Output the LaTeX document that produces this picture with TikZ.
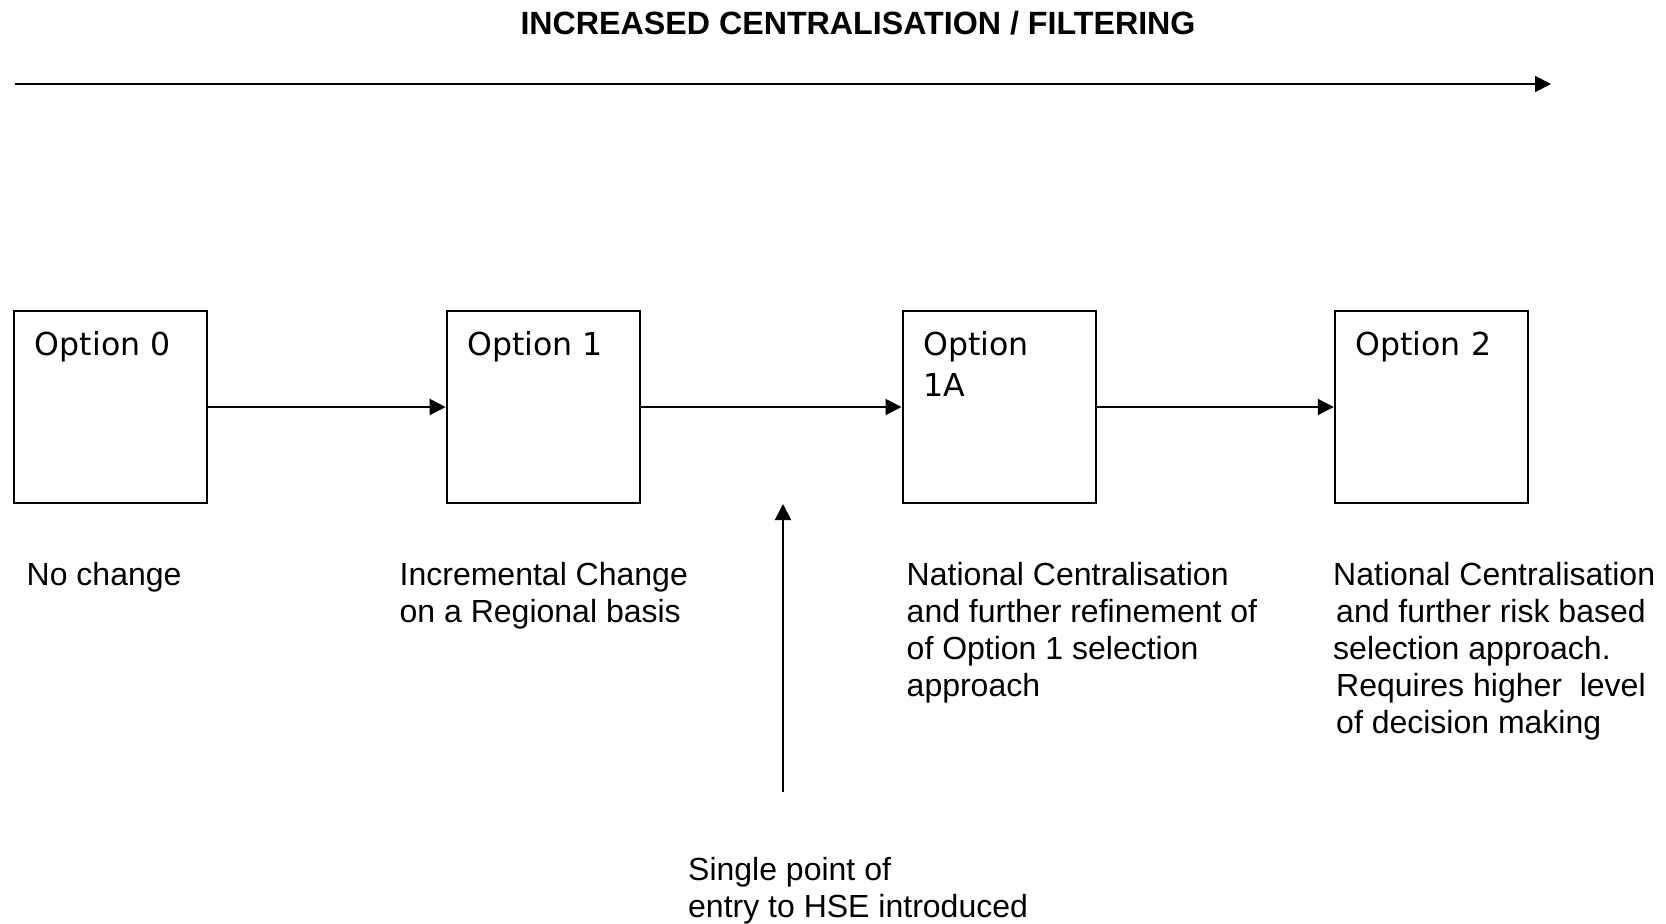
\documentclass[tikz,border=0pt]{standalone}
\usepackage{fontspec}
\setmainfont{Liberation Sans}
\newfontfamily\optfont{DejaVu Sans}
\usetikzlibrary{arrows.meta,positioning}
\tikzset{%
	block/.style    = {draw, line width=2pt, rectangle, minimum width=193pt,
		minimum height=192pt, inner sep=0pt},
	opttext/.style  = {anchor=base west, inner sep=0pt, align=left,
		font=\optfont\fontsize{31.6}{41}\selectfont}, % text in the boxes
	desc/.style     = {anchor=base west, inner sep=0pt, align=left,
		font=\fontsize{32}{37}\selectfont}, % captions, placed at last baseline
	flow/.style     = {line width=2pt, -{Triangle[length=16pt,width=16pt]}}
}

\begin{document}
\begin{tikzpicture}[x=1pt,y=-1pt]
                \useasboundingbox (0,0) rectangle (1666,924);

                \node[anchor=base, inner sep=0pt, font=\bfseries\fontsize{32.2}{36}\selectfont] (title) at (858,34) {INCREASED CENTRALISATION / FILTERING};
                \coordinate (axisL) at (15,84);
                \coordinate (axisR) at (1551,84);
                \draw[flow] (axisL) -- (axisR);

                % the four options
                \node[block] (opt0)  at (110.7,407) {};
                \node[block] (opt1)  at (543.2,407) {};
                \node[block] (opt1A) at (999,407) {};
                \node[block] (opt2)  at (1431.3,407) {};

                \node[opttext] (opt0txt)  at ([xshift=21.5pt,yshift=-45pt]opt0.north west)  {Option 0};
                \node[opttext] (opt1txt)  at ([xshift=21.5pt,yshift=-45pt]opt1.north west)  {Option 1};
                \node[opttext] (opt1Atxt) at ([xshift=21.5pt,yshift=-86pt]opt1A.north west) {Option\\1A};
                \node[opttext] (opt2txt)  at ([xshift=21.5pt,yshift=-45pt]opt2.north west)  {Option 2};

                \draw[flow] (opt0)  -- (opt1);
                \draw[flow] (opt1)  -- (opt1A);
                \draw[flow] (opt1A) -- (opt2);

                % captions
                \node[desc] (no)   at (26.5,585)  {No change};
                \node[desc] (inc)  at (399.5,622) {Incremental Change\\on a Regional basis};
                \node[desc] (nat)  at (906.5,696) {National Centralisation\\and further refinement of\\of Option 1 selection\\approach};
                \node[desc] (risk) at (1333,733)  {National Centralisation\\\hspace*{3pt}and further risk based\\selection approach.\\\hspace*{3pt}Requires higher~ level\\\hspace*{3pt}of decision making};

                \coordinate (entryB) at (783,792);
                \coordinate (entryT) at (783,504);
                \draw[flow] (entryB) -- (entryT);
                \node[desc] (entry) at (688,917) {Single point of\\entry to HSE introduced};
            \end{tikzpicture}
\end{document}
